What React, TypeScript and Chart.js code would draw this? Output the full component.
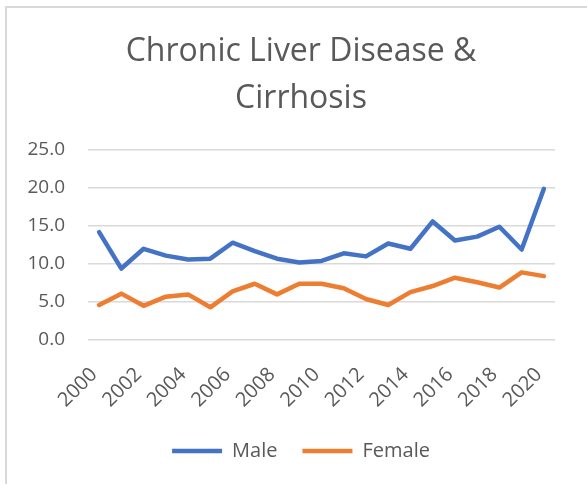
import { useEffect, useRef } from "react";
import { Chart, registerables } from "chart.js";

Chart.register(...registerables);

const years = [
  "2000", "2001", "2002", "2003", "2004", "2005", "2006", "2007", "2008", "2009", "2010",
  "2011", "2012", "2013", "2014", "2015", "2016", "2017", "2018", "2019", "2020",
];
const male = [
  14.2, 9.4, 12.0, 11.1, 10.6, 10.7, 12.8, 11.7, 10.7, 10.2, 10.4,
  11.4, 11.0, 12.7, 12.0, 15.6, 13.1, 13.6, 14.9, 11.9, 19.9,
];
const female = [
  4.6, 6.1, 4.5, 5.7, 6.0, 4.3, 6.4, 7.4, 6.0, 7.4, 7.4,
  6.8, 5.4, 4.6, 6.3, 7.1, 8.2, 7.6, 6.9, 8.9, 8.4,
];
const titleLines = ["Chronic Liver Disease &", "Cirrhosis"];
const yMin = 0;
const yMax = 25;
const yStep = 5;

const FONT = "'Open Sans', 'Noto Sans', sans-serif";
const TEXT = "#595959";
const GRID = "#d9d9d9";

export default function App() {
  const ref = useRef<HTMLCanvasElement | null>(null);

  useEffect(() => {
    if (!ref.current) return;
    const chart = new Chart(ref.current, {
      type: "line",
      data: {
        labels: years,
        datasets: [
          {
            label: "Male",
            data: male,
            borderColor: "#4472C4",
            backgroundColor: "#4472C4",
            borderWidth: 4.5,
            pointRadius: 0,
            pointHoverRadius: 0,
            borderCapStyle: "round",
            borderJoinStyle: "round",
            pointStyle: "line",
            tension: 0,
          },
          {
            label: "Female",
            data: female,
            borderColor: "#ED7D31",
            backgroundColor: "#ED7D31",
            borderWidth: 4.5,
            pointRadius: 0,
            pointHoverRadius: 0,
            borderCapStyle: "round",
            borderJoinStyle: "round",
            pointStyle: "line",
            tension: 0,
          },
        ],
      },
      options: {
        responsive: false,
        animation: false,
        events: [],
        layout: { padding: { left: 15, right: 0, top: 0, bottom: 14 } },
        plugins: {
          tooltip: { enabled: false },
          title: {
            display: true,
            text: titleLines,
            color: TEXT,
            font: { family: FONT, size: 32, weight: "normal", lineHeight: 1.484 },
            padding: { top: 28, bottom: 27 },
          },
          legend: {
            display: true,
            position: "bottom",
            labels: {
              usePointStyle: true,
              pointStyleWidth: 50,
              boxHeight: 20,
              padding: 25,
              color: TEXT,
              font: { family: FONT, size: 20 },
            },
          },
        },
        scales: {
          x: {
            type: "category",
            offset: true,
            grid: { display: false },
            border: { display: false },
            ticks: {
              autoSkip: false,
              maxRotation: 45,
              minRotation: 45,
              padding: 15,
              labelOffset: -5,
              color: TEXT,
              font: { family: FONT, size: 20 },
              callback: (_v: any, i: number) => (i % 2 === 0 ? years[i] : ""),
            },
            afterFit: (s: any) => {
              s.height = 76;
            },
          },
          y: {
            type: "linear",
            min: yMin,
            max: yMax,
            grid: { color: GRID, lineWidth: 1.5, drawTicks: false },
            border: { display: false },
            ticks: {
              stepSize: yStep,
              padding: 23,
              color: TEXT,
              font: { family: FONT, size: 19 },
              callback: (v: any) => Number(v).toFixed(1),
            },
            afterFit: (s: any) => {
              s.width = 73;
            },
          },
          y2: {
            type: "linear",
            position: "right",
            display: true,
            grid: { display: false, drawTicks: false },
            border: { display: false },
            ticks: { display: false },
            afterFit: (s: any) => {
              s.width = 32;
            },
          },
        },
      },
    } as any);
    return () => chart.destroy();
  }, []);

  return (
    <div style={{ position: "fixed", left: 0, top: 0, width: 587, height: 485, overflow: "hidden", background: "#fff" }}>
      <div
        style={{
          position: "absolute",
          left: 5,
          top: 6,
          width: 700,
          height: 478,
          borderLeft: `2px solid ${GRID}`,
          borderTop: `2px solid ${GRID}`,
          boxSizing: "border-box",
        }}
      />
      <canvas ref={ref} width={587} height={485} style={{ position: "absolute", left: 0, top: 0, width: 587, height: 485 }} />
    </div>
  );
}
